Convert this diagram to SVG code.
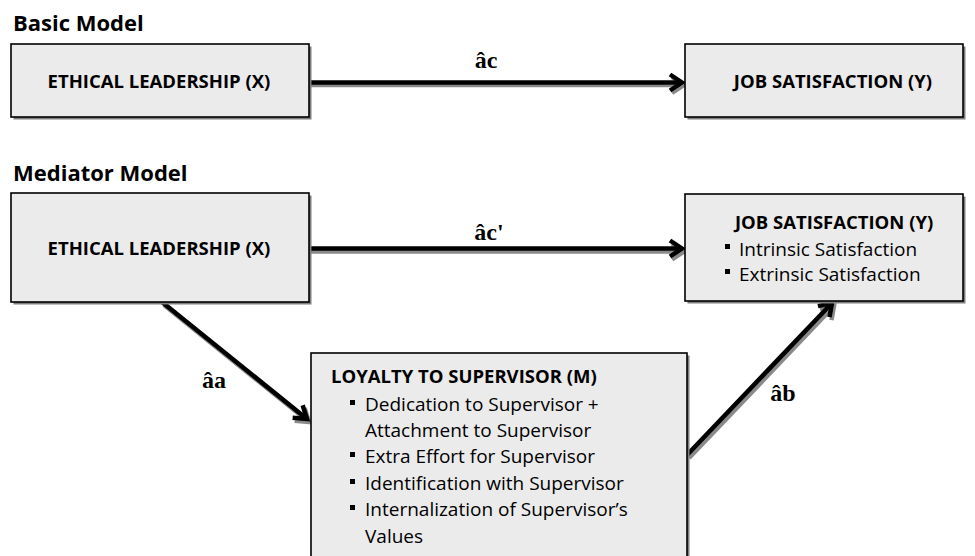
<svg xmlns="http://www.w3.org/2000/svg" width="975" height="556" viewBox="0 0 975 556">
<defs>
<style>
.box{fill:#ebebeb;stroke:#000;stroke-width:1.6}
.shadow{fill:#7f7f7f}
.hd{font-family:"Open Sans",Lato,sans-serif;font-weight:bold;font-size:22px;fill:#000}
.ttl{font-family:"Open Sans",Lato,sans-serif;font-weight:bold;font-size:18.5px;fill:#000}
.itm{font-family:"Open Sans",Lato,sans-serif;font-size:19px;fill:#000}
.blt{fill:#000}
.lbl{font-family:"Liberation Serif","Times New Roman",serif;font-weight:bold;font-size:24px;fill:#000}
.ln{stroke:#000;stroke-width:4.5;fill:none}
.lns{stroke:#8a8a8a;stroke-width:4.5;fill:none}
</style>
<marker id="ah" markerUnits="userSpaceOnUse" viewBox="-16 -12 20 24" markerWidth="20" markerHeight="24" refX="0" refY="0" orient="auto">
<path d="M-12,-8 L0,0 L-12,8" fill="none" stroke="#000" stroke-width="4.5"/>
</marker>
<marker id="ahs" markerUnits="userSpaceOnUse" viewBox="-16 -12 20 24" markerWidth="20" markerHeight="24" refX="0" refY="0" orient="auto">
<path d="M-12,-8 L0,0 L-12,8" fill="none" stroke="#8a8a8a" stroke-width="4.5"/>
</marker>
</defs>
<rect width="975" height="556" fill="#fff"/>

<text class="hd" x="13" y="31">Basic Model</text>
<text class="hd" x="13" y="181">Mediator Model</text>

<g id="connectors">
<line class="lns" x1="310" y1="85" x2="684" y2="85" marker-end="url(#ahs)"/>
<line class="ln" x1="310" y1="82.5" x2="682" y2="82.5" marker-end="url(#ah)"/>
<line class="lns" x1="310" y1="251.5" x2="684" y2="251.5" marker-end="url(#ahs)"/>
<line class="ln" x1="310" y1="248.5" x2="682" y2="248.5" marker-end="url(#ah)"/>
<line class="lns" x1="164" y1="305" x2="309" y2="422" marker-end="url(#ahs)"/>
<line class="ln" x1="162" y1="302" x2="307" y2="419" marker-end="url(#ah)"/>
<line class="lns" x1="689" y1="458" x2="834" y2="306" marker-end="url(#ahs)"/>
<line class="ln" x1="687" y1="455" x2="832" y2="303" marker-end="url(#ah)"/>
</g>

<g id="labels">
<text class="lbl" x="486" y="68" text-anchor="middle">âc</text>
<text class="lbl" x="489" y="240" text-anchor="middle">âc'</text>
<text class="lbl" x="214" y="388" text-anchor="middle">âa</text>
<text class="lbl" x="783" y="401" text-anchor="middle">âb</text>
</g>

<g id="basic-x">
<rect class="shadow" x="13.5" y="46.5" width="298" height="73"/>
<rect class="box" x="11" y="44" width="298" height="73"/>
<text class="ttl" x="159" y="88" text-anchor="middle">ETHICAL LEADERSHIP (X)</text>
</g>

<g id="basic-y">
<rect class="shadow" x="687.5" y="46.5" width="278" height="73"/>
<rect class="box" x="685" y="44" width="278" height="73"/>
<text class="ttl" x="833" y="88" text-anchor="middle">JOB SATISFACTION (Y)</text>
</g>

<g id="med-x">
<rect class="shadow" x="13.5" y="195.5" width="298" height="109"/>
<rect class="box" x="11" y="193" width="298" height="109"/>
<text class="ttl" x="159" y="255" text-anchor="middle">ETHICAL LEADERSHIP (X)</text>
</g>

<g id="med-y">
<rect class="shadow" x="687.5" y="196.5" width="278" height="107"/>
<rect class="box" x="685" y="194" width="278" height="107"/>
<text class="ttl" x="735" y="229">JOB SATISFACTION (Y)</text>
<rect class="blt" x="725" y="244" width="5" height="5"/>
<text class="itm" x="739" y="256">Intrinsic Satisfaction</text>
<rect class="blt" x="725" y="269" width="5" height="5"/>
<text class="itm" x="739" y="281">Extrinsic Satisfaction</text>
</g>

<g id="med-m">
<rect class="shadow" x="313.5" y="355.5" width="376" height="220"/>
<rect class="box" x="311" y="353" width="376" height="220"/>
<text class="ttl" x="331" y="383">LOYALTY TO SUPERVISOR (M)</text>
<rect class="blt" x="350" y="400" width="5" height="5"/>
<text class="itm" x="365" y="411">Dedication to Supervisor +</text>
<text class="itm" x="365" y="437">Attachment to Supervisor</text>
<rect class="blt" x="350" y="452" width="5" height="5"/>
<text class="itm" x="365" y="463">Extra Effort for Supervisor</text>
<rect class="blt" x="350" y="479" width="5" height="5"/>
<text class="itm" x="365" y="490">Identification with Supervisor</text>
<rect class="blt" x="350" y="505" width="5" height="5"/>
<text class="itm" x="365" y="516">Internalization of Supervisor’s</text>
<text class="itm" x="365" y="543">Values</text>
</g>
</svg>
